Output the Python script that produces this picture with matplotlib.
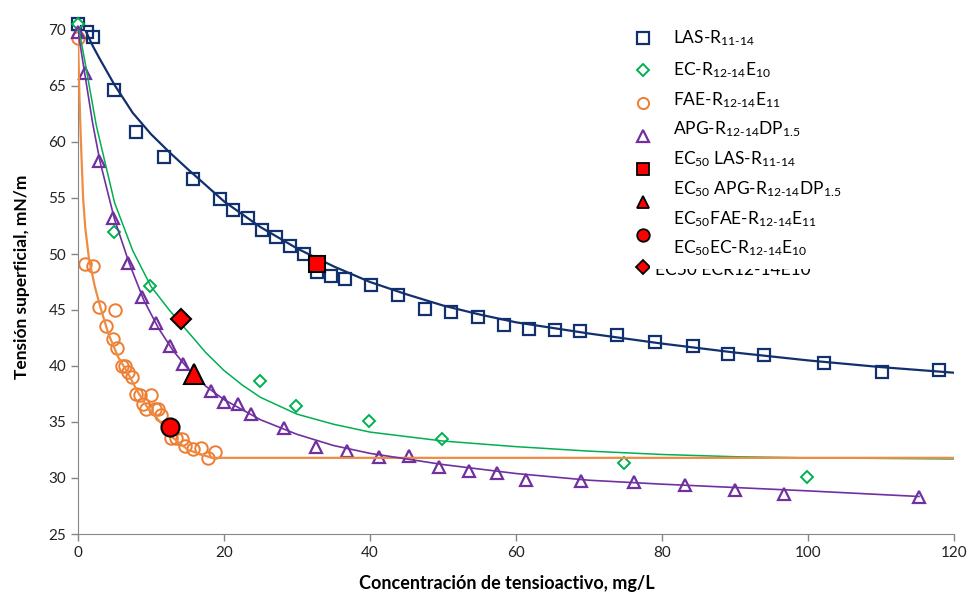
import matplotlib.pyplot as plt
from matplotlib.lines import Line2D
from matplotlib.patches import Rectangle

plt.rcParams['font.family'] = ['Lato', 'DejaVu Sans']
plt.rcParams['mathtext.fontset'] = 'custom'
plt.rcParams['mathtext.rm'] = 'Lato'
plt.rcParams['mathtext.it'] = 'Lato:italic'
plt.rcParams['mathtext.bf'] = 'Lato:bold'

las_x = [0, 1.2, 2.0, 4.9, 7.9, 11.8, 15.7, 19.5, 21.3, 23.3, 25.2, 27.1, 29.0, 31.0,
         32.8, 34.7, 36.6, 40.2, 43.9, 47.5, 51.1, 54.75, 58.3, 61.8, 65.3, 68.8,
         73.9, 79.0, 84.2, 89.1, 94.0, 102.2, 110.1, 118.0]
las_y = [70.5, 69.8, 69.4, 64.6, 60.9, 58.7, 56.7, 54.9, 53.9, 53.2, 52.1, 51.5, 50.7, 50.0,
         48.4, 48.0, 47.8, 47.2, 46.3, 45.1, 44.85, 44.4, 43.7, 43.3, 43.2, 43.1,
         42.8, 42.1, 41.75, 41.1, 41.0, 40.3, 39.5, 39.6]

ec_x = [0, 4.9, 9.9, 24.9, 29.9, 39.9, 49.9, 74.8, 99.9]
ec_y = [70.5, 52.0, 47.1, 38.7, 36.4, 35.1, 33.5, 31.3, 30.1]

fae_x = [0, 1.0, 2.0, 2.9, 3.8, 4.8, 5.0, 5.4, 6.0, 6.5, 6.9, 7.4, 7.9, 8.5, 8.9, 9.3,
         10.0, 10.5, 11.0, 11.4, 12.8, 13.4, 14.2, 14.7, 15.8, 16.8, 17.8, 18.8]
fae_y = [69.3, 49.1, 48.9, 45.25, 43.6, 42.4, 45.0, 41.6, 40.0, 40.0, 39.5, 39.0, 37.5, 37.4,
         36.6, 36.2, 37.4, 36.2, 36.2, 35.6, 33.6, 33.6, 33.5, 32.9, 32.6, 32.7, 31.8, 32.3]

apg_x = [0, 0.96, 2.9, 4.8, 6.9, 8.7, 10.7, 12.6, 14.4, 18.2, 20.0, 21.9, 23.7, 28.2,
         32.6, 36.9, 41.2, 45.4, 49.5, 53.5, 57.4, 61.4, 68.9, 76.2, 83.2, 90.0, 96.7, 115.2]
apg_y = [69.8, 66.2, 58.3, 53.2, 49.2, 46.2, 43.8, 41.8, 40.2, 37.8, 36.8, 36.6, 35.7, 34.5,
         32.8, 32.4, 31.9, 32.0, 31.0, 30.6, 30.45, 29.8, 29.7, 29.6, 29.4, 28.9, 28.6, 28.3]

# --- curvas de ajuste ---
las_fit_x = [0, 1, 2, 3, 5, 7.5, 10, 12.5, 15, 20, 25, 30, 35, 40, 45, 50, 55, 60,
             70, 80, 90, 100, 110, 120]
las_fit_y = [70.6, 70.0, 68.6, 67.4, 65.1, 62.6, 60.7, 59.1, 57.6, 54.7, 52.4, 50.5, 48.9,
             47.5, 46.4, 45.4, 44.6, 43.9, 42.9, 42.0, 41.2, 40.5, 39.9, 39.4]

ec_fit_x = [0, 1, 2.5, 5, 7.5, 10, 12.5, 15, 17.5, 20, 22.5, 25, 30, 35, 40, 50, 60, 70,
            80, 90, 100, 110, 120]
ec_fit_y = [70.5, 67.0, 61.5, 54.6, 50.3, 47.1, 45.0, 43.1, 41.2, 39.6, 38.3, 37.2, 35.7,
            34.8, 34.1, 33.3, 32.8, 32.4, 32.1, 31.9, 31.8, 31.75, 31.7]

fae_fit_x = [0, 0.2, 0.4, 0.7, 1.0, 1.5, 2.3, 3.0, 4.15, 5.5, 6.9, 8.0, 9.4, 11.0, 12.8,
             15.1, 18.3, 120]
fae_fit_y = [69.3, 64.0, 60.0, 55.0, 52.3, 49.6, 47.1, 45.4, 42.9, 40.8, 39.3, 37.9, 36.4,
             35.2, 33.7, 32.5, 31.8, 31.8]

apg_fit_x = [0, 1, 2, 3, 5, 7, 9, 11, 13, 15, 17.5, 20, 25, 30, 35, 40, 45, 50, 60, 70,
             80, 90, 100, 115.2]
apg_fit_y = [69.9, 65.8, 61.7, 58.3, 53.1, 49.2, 45.9, 43.4, 41.4, 39.8, 38.2, 37.0, 35.2,
             33.9, 32.9, 32.2, 31.7, 31.2, 30.4, 29.8, 29.45, 29.15, 28.85, 28.35]

# --- EC50 ---
ec50_las = (32.7, 49.1)
ec50_apg = (15.9, 39.3)
ec50_fae = (12.6, 34.55)
ec50_ec = (14.1, 44.2)

labels = [r'LAS-R$_{\text{11-14}}$',
          r'EC-R$_{\text{12-14}}$E$_{10}$',
          r'FAE-R$_{\text{12-14}}$E$_{11}$',
          r'APG-R$_{\text{12-14}}$DP$_{1.5}$',
          r'EC$_{50}$ LAS-R$_{\text{11-14}}$',
          r'EC$_{50}$ APG-R$_{\text{12-14}}$DP$_{1.5}$',
          r'EC$_{50}$FAE-R$_{\text{12-14}}$E$_{11}$',
          r'EC$_{50}$EC-R$_{\text{12-14}}$E$_{10}$']
label_base = [43.5, 75.5, 105.5, 134.5, 164.5, 194.5, 224, 253.5]

navy = '#12306E'
green = '#00B050'
orange = '#ED7D31'
purple = '#7030A0'

W, H = 968, 599
fig = plt.figure(figsize=(W / 100, H / 100), dpi=100)
ax = fig.add_axes([78 / W, 1 - 534 / H, 876 / W, 504 / H])

ax.plot(las_fit_x, las_fit_y, color=navy, lw=1.6, zorder=3)
ax.plot(ec_fit_x, ec_fit_y, color=green, lw=1.1, zorder=3)
ax.plot(fae_fit_x, fae_fit_y, color='#F08C42', lw=1.6, zorder=3)
ax.plot(apg_fit_x, apg_fit_y, color=purple, lw=1.2, zorder=3)

ax.plot(las_x, las_y, 's', mfc='none', mec=navy, ms=9, mew=1.6, clip_on=False, zorder=2)
ax.plot(ec_x, ec_y, 'D', mfc='none', mec=green, ms=6, mew=1.4, clip_on=False, zorder=2)
ax.plot(fae_x, fae_y, 'o', mfc='none', mec=orange, ms=9, mew=1.4, clip_on=False, zorder=2)
ax.plot(apg_x, apg_y, '^', mfc='none', mec=purple, ms=9, mew=1.6, clip_on=False, zorder=2)

red = dict(mfc='#FF0000', mec='black', mew=1.5, ls='none', zorder=5)
ax.plot(*ec50_las, 's', ms=12, **red)
ax.plot(*ec50_apg, '^', ms=14, **red)
ax.plot(*ec50_fae, 'o', ms=13, **red)
ax.plot(*ec50_ec, 'D', ms=10, **red)

ax.set_xlim(0, 120)
ax.set_ylim(25, 70)
ax.set_xticks(range(0, 121, 20))
ax.set_yticks(range(25, 71, 5))
for s in ['top', 'right']:
    ax.spines[s].set_visible(False)
for s in ['left', 'bottom']:
    ax.spines[s].set_color('#868686')
ax.tick_params(direction='out', length=5, width=1, color='#868686',
               labelsize=11, labelcolor='#222222')

ax.set_xlabel('Concentración de tensioactivo, mg/L', fontsize=13, fontweight='bold')
ax.set_ylabel('Tensión superficial, mN/m', fontsize=12.5, fontweight='bold')
ax.xaxis.label.set_va('center')
ax.yaxis.label.set_va('center')
ax.xaxis.set_label_coords(0.49, -(584 - 534) / 504)
ax.yaxis.set_label_coords(-(78 - 22) / 876, (534 - 277) / 504)

# leyenda: símbolos
handles = [
    Line2D([], [], marker='s', ls='none', mfc='none', mec=navy, ms=8, mew=1.6),
    Line2D([], [], marker='D', ls='none', mfc='none', mec=green, ms=6, mew=1.4),
    Line2D([], [], marker='o', ls='none', mfc='none', mec=orange, ms=8, mew=1.4),
    Line2D([], [], marker='^', ls='none', mfc='none', mec=purple, ms=8, mew=1.6),
    Line2D([], [], marker='s', ls='none', mfc='#FF0000', mec='black', ms=8, mew=1.3),
    Line2D([], [], marker='^', ls='none', mfc='#FF0000', mec='black', ms=9, mew=1.3),
    Line2D([], [], marker='o', ls='none', mfc='#FF0000', mec='black', ms=9, mew=1.3),
    Line2D([], [], marker='D', ls='none', mfc='#FF0000', mec='black', ms=7, mew=1.3),
]
fs = 10
leg = ax.legend(handles, [''] * 8, loc='upper left', frameon=False, fontsize=fs,
                numpoints=1, borderpad=0, borderaxespad=0, labelspacing=1.5,
                handlelength=2.0, handletextpad=0.2,
                bbox_to_anchor=((643 - 13.9) / W, 1 - 32.5 / H),
                bbox_transform=fig.transFigure)

# texto roto de la última entrada, tapado por un cuadro blanco
fig.text(655 / W, 1 - 275 / H, 'EC50 ECR12-14E10', fontsize=12.5, va='baseline',
         color='black', zorder=1)
fig.add_artist(Rectangle((650 / W, 1 - 268.5 / H), 190 / W, 10 / H,
                         transform=fig.transFigure, facecolor='white',
                         edgecolor='none', zorder=2))
for lab, yb in zip(labels, label_base):
    fig.text(673 / W, 1 - yb / H, lab, fontsize=12.5, va='baseline', color='black',
             zorder=3)

fig.savefig('out.png', dpi=100)
